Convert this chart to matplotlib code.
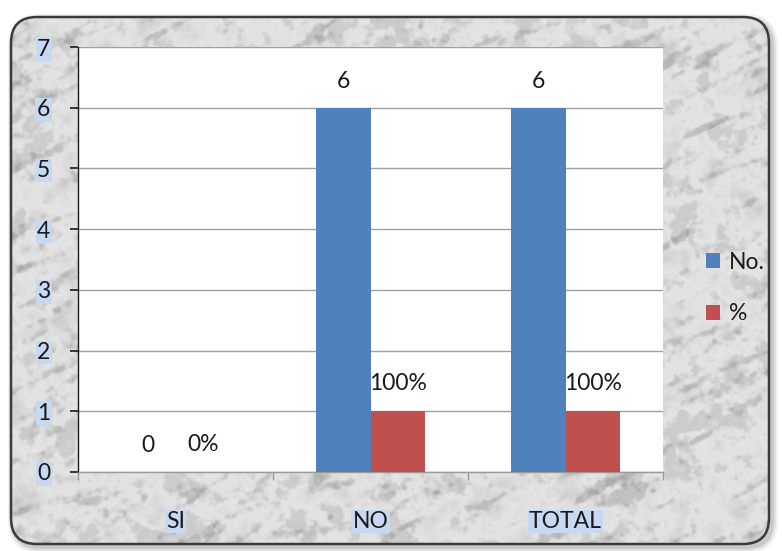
import numpy as np
import matplotlib
matplotlib.use("Agg")
import matplotlib.pyplot as plt
from matplotlib.patches import FancyBboxPatch

categories = ["SI", "NO", "TOTAL"]
counts = [0, 6, 6]
shares = [0, 1, 1]
share_labels = ["0%", "100%", "100%"]
series_names = ["No.", "%"]
yticks = [0, 1, 2, 3, 4, 5, 6, 7]

BLUE = "#4f81bd"
RED = "#c0504d"
FONT = ["Lato", "DejaVu Sans"]
FS = 16.5

W, H = 782, 551
fig = plt.figure(figsize=(W / 100, H / 100), dpi=100)
fig.patch.set_facecolor("white")

# ---- marble backdrop inside a rounded frame ----
rng = np.random.default_rng(5)


def smooth_noise(shape, sx, sy=None):
    sy = sx if sy is None else sy
    n = rng.standard_normal(shape)
    fy = np.fft.fftfreq(shape[0])[:, None]
    fx = np.fft.fftfreq(shape[1])[None, :]
    k = np.exp(-((fx * sx) ** 2 + (fy * sy) ** 2) * 9.87)
    out = np.real(np.fft.ifft2(np.fft.fft2(n) * k))
    return (out - out.mean()) / out.std()


def rotate_field(f, ang):
    # sample the field along rotated coordinates to get slanted streaks
    h, w = f.shape
    yy, xx = np.mgrid[0:h, 0:w]
    c, s = np.cos(ang), np.sin(ang)
    u = ((xx - w / 2) * c - (yy - h / 2) * s + w / 2) % w
    v = ((xx - w / 2) * s + (yy - h / 2) * c + h / 2) % h
    return f[v.astype(int), u.astype(int)]


cloud = smooth_noise((H, W), 12) + 0.6 * smooth_noise((H, W), 5) + 0.3 * smooth_noise((H, W), 1.8)
streak = rotate_field(smooth_noise((H, W), 18, 4), 0.45) + 0.5 * smooth_noise((H, W), 3)
dark = 1 / (1 + np.exp(-(cloud - 1.2) * 2.5)) + 0.8 / (1 + np.exp(-(streak - 1.5) * 3))
tex = 0.90 + 0.025 * cloud - 0.17 * dark
tex = np.clip(tex, 0.5, 0.97)

bg = fig.add_axes([0, 0, 1, 1], zorder=-5)
bg.set_xlim(0, W)
bg.set_ylim(H, 0)
bg.axis("off")

for i, a in enumerate([0.05, 0.07, 0.10]):
    g = 6 - 2 * i
    glow = FancyBboxPatch((11 - g + 3, 17 - g + 3), W - 24 + 2 * g, H - 24 + 2 * g,
                          boxstyle=f"round,pad=0,rounding_size={26 + g}",
                          facecolor=(0, 0, 0, a), edgecolor="none", zorder=1)
    bg.add_patch(glow)
frame = FancyBboxPatch((11, 17), W - 24, H - 24,
                       boxstyle="round,pad=0,rounding_size=26",
                       facecolor="none", edgecolor="#3a3a3a", linewidth=1.8, zorder=3)
bg.add_patch(frame)
img = bg.imshow(np.dstack([tex] * 3), extent=(0, W, H, 0), interpolation="bilinear", zorder=2)
img.set_clip_path(frame)

# ---- chart area ----
left, right, top, bottom = 78, 663, 47, 472
ax = fig.add_axes([left / W, 1 - bottom / H, (right - left) / W, (bottom - top) / H])
ax.set_facecolor("white")

x = np.arange(len(categories))
bw = 0.282
ax.bar(x - bw / 2, counts, width=bw, color=BLUE, label=series_names[0], zorder=3)
ax.bar(x + bw / 2, shares, width=bw, color=RED, label=series_names[1], zorder=3)

for xi, v in zip(x, counts):
    ax.annotate(f"{v}", (xi - bw / 2, v), xytext=(0, 19), textcoords="offset points",
                ha="center", va="center", fontsize=FS, family=FONT, color="#1a1a1a")
for xi, v, lab in zip(x, shares, share_labels):
    ax.annotate(lab, (xi + bw / 2, v), xytext=(0, 20), textcoords="offset points",
                ha="center", va="center", fontsize=FS, family=FONT, color="#1a1a1a")

ax.set_xlim(-0.5, len(categories) - 0.5)
ax.set_ylim(0, 7)
ax.set_yticks(yticks)
ax.yaxis.grid(True, color="#a0a0a0", linewidth=1.0, zorder=0)
ax.set_axisbelow(True)

for s in ("top", "right"):
    ax.spines[s].set_visible(False)
ax.spines["left"].set_color("#1a1a1a")
ax.spines["left"].set_linewidth(1.0)
ax.spines["bottom"].set_color("#9a9a9a")
ax.spines["bottom"].set_linewidth(1.0)

ax.tick_params(axis="y", direction="out", length=6, width=1.2, color="#1a1a1a", pad=14)
ax.set_yticklabels([str(t) for t in yticks], fontsize=FS, family=FONT, color="#1a1a1a")
for lbl in ax.get_yticklabels():
    lbl.set_bbox(dict(facecolor="#c6d9f1", edgecolor="none", pad=1.0))

ax.set_xticks(x)
ax.set_xticklabels(categories, fontsize=FS, family=FONT, color="#1a1a1a")
ax.tick_params(axis="x", which="major", length=0, pad=28)
ax.set_xticks(np.arange(len(categories) + 1) - 0.5, minor=True)
ax.tick_params(axis="x", which="minor", direction="out", length=6, color="#9a9a9a", width=1.0)
for lbl in ax.get_xticklabels():
    lbl.set_bbox(dict(facecolor="#c6d9f1", edgecolor="none", pad=1.0))

leg = fig.legend(loc="center left", bbox_to_anchor=(706 / W, 1 - 288 / H), frameon=False,
                 prop={"family": FONT, "size": FS}, handlelength=0.6, handleheight=0.6,
                 handletextpad=0.4, labelspacing=1.35, borderpad=0, borderaxespad=0)
for t in leg.get_texts():
    t.set_color("#1a1a1a")

fig.savefig("out.png", dpi=100)
